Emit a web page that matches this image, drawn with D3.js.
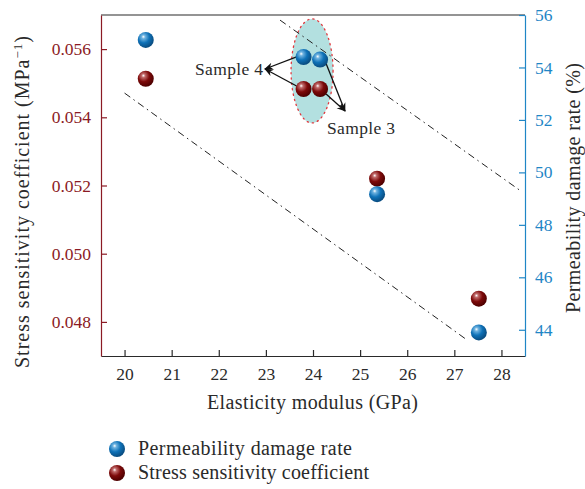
<!DOCTYPE html>
<html>
<head>
<meta charset="utf-8">
<script src="https://cdn.jsdelivr.net/npm/d3@7"></script>
<style>
  html, body { margin: 0; padding: 0; background: #fff; }
  svg { display: block; font-family: "Liberation Serif", "DejaVu Serif", serif; }
</style>
</head>
<body>
<div id="chart"></div>
<script>
// data
const modulus = [20.45, 23.8, 24.15, 25.36, 27.52];
const damageRate = [55.05, 54.4, 54.3, 49.17, 43.9];          // %
const stressCoef = [0.05513, 0.05483, 0.05483, 0.0522, 0.04868]; // MPa^-1
const xTicks = [20, 21, 22, 23, 24, 25, 26, 27, 28];
const yLeftTicks = [0.048, 0.050, 0.052, 0.054, 0.056];
const yRightTicks = [44, 46, 48, 50, 52, 54, 56];
// dash-dot guide lines (modulus, stress coef)
const lowerGuide = [[20.0, 0.05471], [27.26, 0.04748]];
const upperGuide = [[23.3, 0.05685], [28.4, 0.05185]];

const W = 585, H = 489;
const m = { left: 101, right: 60, top: 15, bottom: 133 };
const RED = '#8b1a24', BLUE = '#1f86c6', DARK = '#2a2a2a';

const svg = d3.select('#chart').append('svg').attr('width', W).attr('height', H);
const defs = svg.append('defs');
function ballGrad(id, light, mid, dark){
  const g = defs.append('radialGradient').attr('id', id)
    .attr('cx', '38%').attr('cy', '35%').attr('r', '65%').attr('fx', '35%').attr('fy', '30%');
  g.append('stop').attr('offset', '0%').attr('stop-color', '#ffffff');
  g.append('stop').attr('offset', '18%').attr('stop-color', light);
  g.append('stop').attr('offset', '55%').attr('stop-color', mid);
  g.append('stop').attr('offset', '100%').attr('stop-color', dark);
}
ballGrad('ballBlue', '#6fb3e0', '#0f72b8', '#094c80');
ballGrad('ballRed', '#c06a6a', '#7d0a0a', '#4e0000');
defs.append('marker').attr('id', 'arr').attr('viewBox', '0 0 10 10')
  .attr('refX', 9).attr('refY', 5).attr('markerWidth', 9).attr('markerHeight', 9)
  .attr('orient', 'auto-start-reverse').attr('markerUnits', 'userSpaceOnUse')
  .append('path').attr('d', 'M0,1 L10,5 L0,9 L3,5 Z').attr('fill', '#111');

const x = d3.scaleLinear().domain([19.5, 28.5]).range([m.left, W - m.right]);
const yL = d3.scaleLinear().domain([0.047, 0.057]).range([H - m.bottom, m.top]);
const yR = d3.scaleLinear().domain([43, 56]).range([H - m.bottom, m.top]);

const x0 = m.left, x1 = W - m.right, y0 = H - m.bottom, y1 = m.top;

// ellipse highlight around samples 3 & 4
svg.append('ellipse')
  .attr('cx', x(23.98)).attr('cy', yL(0.05536))
  .attr('rx', 21).attr('ry', 52)
  .attr('fill', '#b3e0e0')
  .attr('stroke', '#e0393e').attr('stroke-width', 1.3)
  .attr('stroke-dasharray', '1.3 4').attr('stroke-linecap', 'round');

// guide lines
const line = d3.line().x(d => x(d[0])).y(d => yL(d[1]));
[lowerGuide, upperGuide].forEach(g => {
  svg.append('path').attr('d', line(g)).attr('fill', 'none')
    .attr('stroke', '#222').attr('stroke-width', 1)
    .attr('stroke-dasharray', '7 4 1.5 4');
});

// frame top line
svg.append('line').attr('x1', x0).attr('x2', x1).attr('y1', y1).attr('y2', y1)
  .attr('stroke', DARK).attr('stroke-width', 1.2);

// x axis
const gx = svg.append('g').attr('transform', `translate(0,${y0})`)
  .call(d3.axisBottom(x).tickValues(xTicks).tickSizeInner(-6).tickSizeOuter(0).tickPadding(12));
gx.select('.domain').attr('stroke', DARK).attr('stroke-width', 1.2);
gx.selectAll('.tick line').attr('stroke', DARK).attr('stroke-width', 1.2);
gx.selectAll('.tick text').attr('fill', DARK).attr('font-size', 17.5).attr('font-family', 'Liberation Serif');

// left axis
const gl = svg.append('g').attr('transform', `translate(${x0},0)`)
  .call(d3.axisLeft(yL).tickValues(yLeftTicks).tickFormat(d3.format('.3f')).tickSizeInner(-6).tickSizeOuter(0).tickPadding(10));
gl.select('.domain').attr('stroke', RED).attr('stroke-width', 1.2);
gl.selectAll('.tick line').attr('stroke', RED).attr('stroke-width', 1.2);
gl.selectAll('.tick text').attr('fill', RED).attr('font-size', 17.5).attr('font-family', 'Liberation Serif');

// right axis
const gr = svg.append('g').attr('transform', `translate(${x1},0)`)
  .call(d3.axisRight(yR).tickValues(yRightTicks).tickSizeInner(-6).tickSizeOuter(0).tickPadding(10));
gr.select('.domain').attr('stroke', BLUE).attr('stroke-width', 1.2);
gr.selectAll('.tick line').attr('stroke', BLUE).attr('stroke-width', 1.2);
gr.selectAll('.tick text').attr('fill', BLUE).attr('font-size', 17.5).attr('font-family', 'Liberation Serif');

// axis titles
svg.append('text').attr('x', 207).attr('y', 409)
  .attr('font-size', 20).attr('fill', DARK)
  .attr('textLength', 211).attr('lengthAdjust', 'spacing')
  .text('Elasticity modulus (GPa)');

const lt = svg.append('text')
  .attr('transform', `translate(29,368) rotate(-90)`)
  .attr('font-size', 20).attr('fill', DARK)
  .attr('textLength', 332).attr('lengthAdjust', 'spacing');
lt.append('tspan').text('Stress sensitivity coefficient (MPa');
lt.append('tspan').attr('dy', -7).attr('font-size', 13).text('\u22121');
lt.append('tspan').attr('dy', 7).text(')');

svg.append('text')
  .attr('transform', `translate(580,313) rotate(-90)`)
  .attr('font-size', 20).attr('fill', DARK)
  .attr('textLength', 250).attr('lengthAdjust', 'spacing')
  .text('Permeability damage rate (%)');

// annotations: arrows to sample labels
const arrows = [
  { from: [x(23.8) - 7, yR(54.4)], to: [265, 69] },
  { from: [x(23.8) - 7, yL(0.05483) - 3], to: [265, 69] },
  { from: [x(24.15) + 6, yR(54.3) + 4], to: [345, 111] },
  { from: [x(24.15) + 6, yL(0.05483) + 5], to: [345, 111] }
];
svg.append('g').selectAll('line').data(arrows).join('line')
  .attr('x1', d => d.from[0]).attr('y1', d => d.from[1])
  .attr('x2', d => d.to[0]).attr('y2', d => d.to[1])
  .attr('stroke', '#111').attr('stroke-width', 1.3)
  .attr('marker-end', 'url(#arr)');
svg.append('text').attr('x', 195).attr('y', 75)
  .attr('font-size', 17.5).attr('fill', DARK)
  .attr('textLength', 68).attr('lengthAdjust', 'spacing').text('Sample 4');
svg.append('text').attr('x', 327).attr('y', 134)
  .attr('font-size', 17.5).attr('fill', DARK)
  .attr('textLength', 68).attr('lengthAdjust', 'spacing').text('Sample 3');

// points
const R = 8;
svg.append('g').selectAll('circle').data(modulus).join('circle')
  .attr('cx', d => x(d)).attr('cy', (d, i) => yL(stressCoef[i]))
  .attr('r', R).attr('fill', 'url(#ballRed)');
svg.append('g').selectAll('circle').data(modulus).join('circle')
  .attr('cx', d => x(d)).attr('cy', (d, i) => yR(damageRate[i]))
  .attr('r', R).attr('fill', 'url(#ballBlue)');

// legend
const legend = [
  { label: 'Permeability damage rate', fill: 'url(#ballBlue)', len: 214 },
  { label: 'Stress sensitivity coefficient', fill: 'url(#ballRed)', len: 231 }
];
const lg = svg.append('g').selectAll('g').data(legend).join('g')
  .attr('transform', (d, i) => `translate(117,${449 + i * 24})`);
lg.append('circle').attr('r', R).attr('fill', d => d.fill);
lg.append('text').attr('x', 21).attr('y', 6).attr('font-size', 20).attr('fill', DARK)
  .attr('textLength', d => d.len).attr('lengthAdjust', 'spacing')
  .text(d => d.label);
</script>
</body>
</html>
